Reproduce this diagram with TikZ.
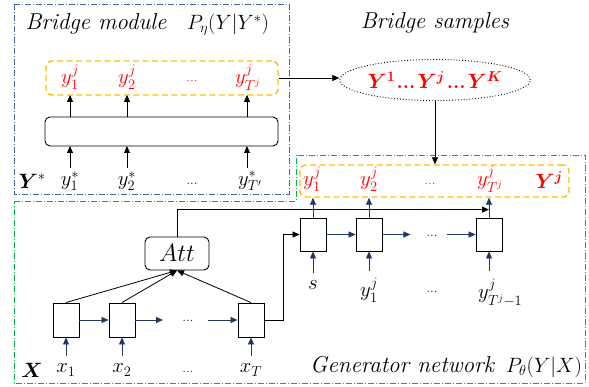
\documentclass[tikz,border=0pt]{standalone}
\usepackage{amsmath,bm}
\usetikzlibrary{arrows.meta,shapes.geometric,calc}
\definecolor{bluebox}{RGB}{72,104,160}
\definecolor{greenbox}{RGB}{0,176,80}
\definecolor{orangebox}{RGB}{255,192,0}
\definecolor{navy}{RGB}{31,56,100}
\definecolor{redtxt}{RGB}{255,0,0}
\newcommand{\ttl}[1]{{\fontsize{23}{25}\selectfont\itshape #1}}
\tikzset{
  lbl/.style={font=\fontsize{20}{22}\selectfont, inner sep=0pt},
  tlbl/.style={font=\fontsize{20}{22}\selectfont, inner sep=0pt},
  redl/.style={lbl, text=redtxt},
  cell/.style={draw, line width=0.9pt, minimum width=26pt, minimum height=33pt, inner sep=0pt},
  arr/.style={-{Triangle[length=7pt,width=6pt]}, line width=0.8pt},
  narr/.style={arr, draw=navy, -{Triangle[length=7pt,width=6pt,fill=navy]}},
  obox/.style={draw=orangebox, line width=1.4pt, dash pattern=on 6pt off 3.5pt, rounded corners=6pt, inner sep=0pt},
  dashdot/.style={line width=0.9pt, dash pattern=on 6pt off 2pt on 1pt off 2pt}
}
\begin{document}
\begin{tikzpicture}[x=1pt,y=-1pt]
\useasboundingbox (0,0) rectangle (589,387);
% frames
\draw[dashdot, draw=bluebox] (14,4) rectangle (289,194);
\draw[dashdot, draw=greenbox] (14,201) -- (296,201) -- (296,155) -- (585,155) -- (585,383) -- (14,383) -- cycle;

% ---- Bridge module ----
\node[tlbl] (bm) at (96,24) {\ttl{Bridge module}};
\node[lbl] (pe) at (228,25) {$P_\eta(Y|Y^*)$};
\node[obox, minimum width=232pt, minimum height=34pt] (bo) at (162,78) {};
\node[draw, line width=0.9pt, rounded corners=5pt, minimum width=233pt, minimum height=29pt] (benc) at (161.5,131.5) {};
\node[redl] (b1) at (70,77) {$y_1^j$};
\node[redl] (b2) at (127,77) {$y_2^j$};
\node[redl, font=\fontsize{15}{16}\selectfont] (b3) at (192,81) {...};
\node[redl] (b4) at (248,77) {$y_{T^j}^j$};
\node[lbl] (ys0) at (32,181) {$\bm{Y}^*$};
\node[lbl] (ys1) at (70,181) {$y_1^*$};
\node[lbl] (ys2) at (127,181) {$y_2^*$};
\node[lbl, font=\fontsize{15}{16}\selectfont] (ys3) at (192,184) {...};
\node[lbl] (ys4) at (250,181) {$y_{T'}^*$};
\foreach \x in {70,127,247}{
  \draw[arr] (\x,168) -- (\x,146);
  \draw[arr] (\x,117) -- (\x,95);
}

% ---- Bridge samples ----
\node[tlbl] (bs) at (435,23) {\ttl{Bridge samples}};
\node[draw, ellipse, dotted, line width=0.9pt, minimum width=146pt, minimum height=41pt, inner sep=0pt] (ell) at (435,80)
  {\fontsize{20}{22}\selectfont\color{redtxt}$\bm{Y^1}$\hspace{1pt}\textbf{...}\hspace{2pt}$\bm{Y^j}$\hspace{2pt}\textbf{...}\hspace{2pt}$\bm{Y^K}$};
\draw[arr] (bo.east) -- (bo.east -| ell.west);

% ---- Generator ----
\node[obox, minimum width=269pt, minimum height=32pt] (go) at (434.5,181) {};
\draw[arr] (ell.south) -- (ell.south |- go.north);
\node[redl] (g1) at (312,179) {$y_1^j$};
\node[redl] (g2) at (369,179) {$y_2^j$};
\node[redl, font=\fontsize{15}{16}\selectfont] (g3) at (430,184) {...};
\node[redl] (g4) at (490,179) {$y_{T^j}^j$};
\node[redl] (g5) at (549,180) {$\bm{Y^j}$};

\node[cell] (d1) at (313,234.5) {};
\node[cell] (d2) at (369,234.5) {};
\node[cell] (d3) at (489,234.5) {};
\node[lbl, font=\fontsize{15}{16}\selectfont] (dd) at (432,236) {...};
\draw[narr] (d1.east) -- (d2.west);
\draw[narr] (d2.east) -- ++(28,0);
\draw[narr] (447,234.5) -- (d3.west);
\foreach \d in {d1,d2,d3}{\draw[narr] (\d.north) -- (\d.north |- go.south);}

\node[lbl] (s) at (313,285) {$s$};
\node[lbl] (i2) at (369,290) {$y_1^j$};
\node[lbl, font=\fontsize{15}{16}\selectfont] (i3) at (432,292) {...};
\node[lbl, anchor=west] (i4) at (478,293) {$y_{T^j-1}^j$};
\draw[narr] (313,273) -- (d1.south);
\draw[narr] (369,271) -- (d2.south);
\draw[narr] (489,271) -- (d3.south);

% ---- Encoder ----
\node[cell, minimum height=34pt] (e1) at (66,320) {};
\node[cell, minimum height=34pt] (e2) at (122,320) {};
\node[cell, minimum height=34pt] (e3) at (251,320) {};
\node[lbl, font=\fontsize{15}{16}\selectfont] (ed) at (188,321) {...};
\draw[narr] (e1.east) -- (e2.west);
\draw[narr] (e2.east) -- (163,320);
\draw[narr] (208,320) -- (e3.west);
\node[lbl] (X) at (32,370) {$\bm{X}$};
\node[lbl] (x1) at (66,370) {$x_1$};
\node[lbl] (x2) at (122,370) {$x_2$};
\node[lbl, font=\fontsize{15}{16}\selectfont] (x3) at (188,372) {...};
\node[lbl] (x4) at (251,370) {$x_T$};
\foreach \e in {e1,e2,e3}{\draw[narr] (\e.south) ++(0,19) -- (\e.south);}

\node[draw, line width=0.9pt, rounded corners=5pt, minimum width=64pt, minimum height=33pt, inner sep=0pt] (att) at (177,253.5)
  {\fontsize{24}{26}\selectfont$Att$};
\draw[arr] (e1.north) -- (att.south);
\draw[arr] (e2.north) -- (att.south);
\draw[arr] (e3.north) -- (att.south);
\draw[arr] (att.north) |- ($(d3.north)!0.4!(d3.north |- go.south)$);
\draw[arr] (e3.east) -- ++(19,0) |- (d1.west);

\node[tlbl] (gn) at (446,367) {\ttl{Generator network}\ \ $P_\theta(Y|X)$};
\end{tikzpicture}
\end{document}
